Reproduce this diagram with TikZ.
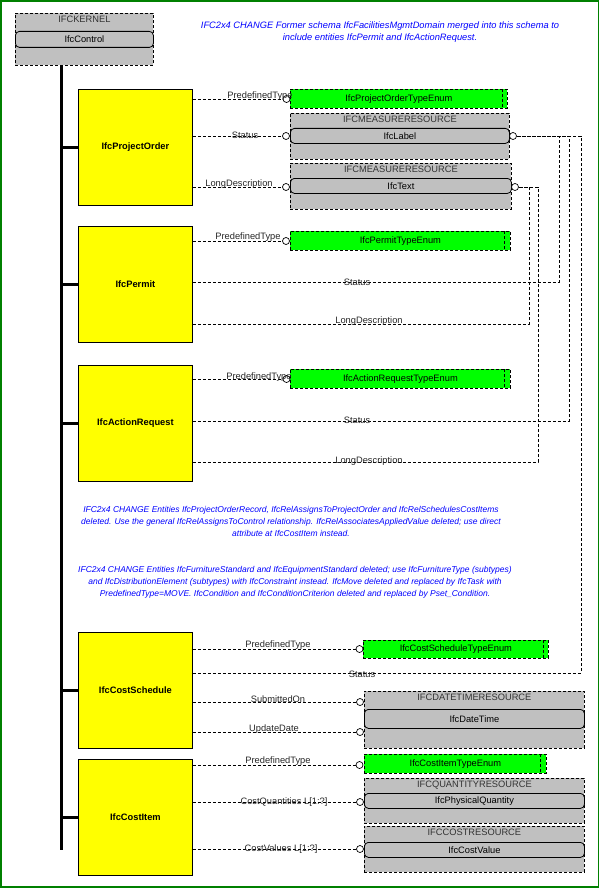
\documentclass[tikz,border=0pt]{standalone}
\usepackage{fontspec}
\setmainfont{Liberation Sans}
\usepackage{xcolor}
\usepackage{tikz}
\usetikzlibrary{positioning,calc}
\definecolor{ifcyellow}{RGB}{255,255,0}
\definecolor{ifcgreen}{RGB}{0,255,0}
\definecolor{ifcgray}{RGB}{192,192,192}
\definecolor{framegreen}{RGB}{0,128,0}
\definecolor{noteblue}{RGB}{0,0,255}
\newcommand{\attrfont}{\fontsize{9.3}{12}\selectfont}
\newcommand{\notefont}{\fontsize{8.5}{12}\selectfont}
\tikzset{
  entity/.style    = {draw, fill=ifcyellow, line width=0.8pt, minimum width=114pt,
                      minimum height=116pt, font=\attrfont\bfseries},
  enumbox/.style   = {draw, dash pattern=on 3pt off 2pt, line width=0.8pt, fill=ifcgreen,
                      anchor=north west, inner sep=0pt, font=\attrfont},
  schema/.style    = {draw, dash pattern=on 3pt off 2pt, line width=0.8pt, fill=ifcgray,
                      anchor=north west, inner sep=0pt},
  schemahead/.style= {font=\attrfont, text=black!80, inner sep=0pt},
  typedef/.style   = {draw, rounded corners=4pt, line width=0.8pt, fill=ifcgray,
                      minimum height=15pt, anchor=north west, inner sep=0pt, font=\attrfont},
  port/.style      = {circle, draw, fill=white, line width=0.7pt, inner sep=0pt, minimum size=7pt},
  link/.style      = {line width=0.8pt, dash pattern=on 3pt off 2pt},
  trunk/.style     = {line width=3pt},
  attr/.style      = {font=\attrfont, text=black!85, inner sep=0pt},
  note/.style      = {align=center, font=\attrfont\itshape, text=noteblue, inner sep=0pt},
}

\begin{document}
\begin{tikzpicture}[x=1pt, y=-1pt]
  \useasboundingbox (0,0) rectangle (600,888);
  \draw[framegreen, line width=1.5pt] (1,1) rectangle (598.5,887);

  % kernel
  \node[schema, minimum width=138pt, minimum height=52pt] (kern) at (15,13) {};
  \node[schemahead, below=3pt of kern.north] (kernHead) {IFCKERNEL};
  \node[typedef, minimum width=138pt, minimum height=16pt] (ctrl) at (15,31) {IfcControl};

  % entities
  \node[entity, anchor=north west] (po) at (78,89) {IfcProjectOrder};
  \node[entity, below=20pt of po] (pm) {IfcPermit};
  \node[entity, below=22pt of pm] (ar) {IfcActionRequest};
  \node[entity, anchor=north west] (cs) at (78,632) {IfcCostSchedule};
  \node[entity, below=10pt of cs] (ci) {IfcCostItem};

  \coordinate (trunkTop) at (61,65);
  \coordinate (trunkEnd) at (61,850);
  \draw[trunk] (trunkTop) -- (trunkEnd);
  \foreach \e in {po,pm,ar,cs,ci}
    \draw[trunk] (\e.west) -- (\e.west -| trunkTop);

  % enumerations
  \node[enumbox, minimum width=217pt, minimum height=19pt] (poE) at (290,89) {IfcProjectOrderTypeEnum};
  \node[enumbox, minimum width=220pt, minimum height=19pt] (pmE) at (290,231) {IfcPermitTypeEnum};
  \node[enumbox, minimum width=220pt, minimum height=19pt] (arE) at (290,369) {IfcActionRequestTypeEnum};
  \node[enumbox, minimum width=185pt, minimum height=18pt] (csE) at (363,640) {IfcCostScheduleTypeEnum};
  \node[enumbox, minimum width=182pt, minimum height=19pt] (ciE) at (364,754) {IfcCostItemTypeEnum};
  \foreach \e/\d in {poE/5,pmE/6,arE/6,csE/5,ciE/6}
    \draw[link] ([xshift=-\d pt]\e.north east) -- ([xshift=-\d pt]\e.south east);

  % resource schemas
  \node[schema, minimum width=219pt, minimum height=46pt] (mrA) at (290,113) {};
  \node[schemahead, below=3pt of mrA.north] (mrAHead) {IFCMEASURERESOURCE};
  \node[typedef, minimum width=219pt] (lbl) at (290,128) {IfcLabel};

  \node[schema, minimum width=221pt, minimum height=46pt] (mrB) at (290,163) {};
  \node[schemahead, below=3pt of mrB.north] (mrBHead) {IFCMEASURERESOURCE};
  \node[typedef, minimum width=221pt] (txt) at (290,178) {IfcText};

  \node[schema, minimum width=220pt, minimum height=57pt] (dt) at (364,691) {};
  \node[schemahead, below=3pt of dt.north] (dtHead) {IFCDATETIMERESOURCE};
  \node[typedef, minimum width=220pt, minimum height=19pt] (dtm) at (364,709) {IfcDateTime};

  \node[schema, minimum width=220pt, minimum height=45pt] (qt) at (364,778) {};
  \node[schemahead, below=3pt of qt.north] (qtHead) {IFCQUANTITYRESOURCE};
  \node[typedef, minimum width=220pt] (pq) at (364,793) {IfcPhysicalQuantity};

  \node[schema, minimum width=220pt, minimum height=46pt] (cr) at (364,826) {};
  \node[schemahead, below=3pt of cr.north] (crHead) {IFCCOSTRESOURCE};
  \node[typedef, minimum width=220pt] (cv) at (364,842) {IfcCostValue};

  % ports
  \node[port] (poTypeP) at (286.5,99) {};
  \node[port] (poStatP) at (286,136) {};
  \node[port] (poDescP) at (286,187) {};
  \node[port] (lblR) at (513,136) {};
  \node[port] (txtR) at (515,187) {};
  \node[port] (pmTypeP) at (286,241) {};
  \node[port] (arTypeP) at (286.5,379) {};
  \node[port] (csTypeP) at (359.5,649) {};
  \node[port] (csSubP) at (360,702) {};
  \node[port] (csUpdP) at (360,732) {};
  \node[port] (ciTypeP) at (359.5,765) {};
  \node[port] (ciQtyP) at (360,802) {};
  \node[port] (ciValP) at (360,849) {};

  \coordinate (pmStatB) at (559,282);
  \coordinate (pmDescB) at (529,324);
  \coordinate (arStatB) at (569,421);
  \coordinate (arDescB) at (538,462);
  \coordinate (csStatB) at (581,673);

  % attribute links
  \draw[link] (po.east |- poTypeP) -- (poTypeP);
  \draw[link] (po.east |- poStatP) -- (poStatP);
  \draw[link] (po.east |- poDescP) -- (poDescP);
  \draw[link] (pm.east |- pmTypeP) -- (pmTypeP);
  \draw[link] (pm.east |- pmStatB) -- (pmStatB) |- (lblR);
  \draw[link] (pm.east |- pmDescB) -- (pmDescB) |- (txtR);
  \draw[link] (ar.east |- arTypeP) -- (arTypeP);
  \draw[link] (ar.east |- arStatB) -- (arStatB) |- (lblR);
  \draw[link] (ar.east |- arDescB) -- (arDescB) |- (txtR);
  \draw[link] (cs.east |- csTypeP) -- (csTypeP);
  \draw[link] (cs.east |- csStatB) -- (csStatB) |- (lblR);
  \draw[link] (cs.east |- csSubP) -- (csSubP);
  \draw[link] (cs.east |- csUpdP) -- (csUpdP);
  \draw[link] (ci.east |- ciTypeP) -- (ciTypeP);
  \draw[link] (ci.east |- ciQtyP) -- (ciQtyP);
  \draw[link] (ci.east |- ciValP) -- (ciValP);

  % attribute names
  \node[attr] (poTypeL) at (260,96) {PredefinedType};
  \node[attr] (poStatL) at (245,135) {Status};
  \node[attr] (poDescL) at (239,184) {LongDescription};
  \node[attr] (pmTypeL) at (248,237) {PredefinedType};
  \node[attr] (pmStatL) at (357,282) {Status};
  \node[attr] (pmDescL) at (369,321) {LongDescription};
  \node[attr] (arTypeL) at (259,377) {PredefinedType};
  \node[attr] (arStatL) at (357,420) {Status};
  \node[attr] (arDescL) at (369,461) {LongDescription};
  \node[attr] (csTypeL) at (278,645) {PredefinedType};
  \node[attr] (csStatL) at (362,674) {Status};
  \node[attr] (csSubL) at (278,699) {SubmittedOn};
  \node[attr] (csUpdL) at (274,729) {UpdateDate};
  \node[attr] (ciTypeL) at (278,761) {PredefinedType};
  \node[attr] (ciQtyL) at (284,802) {CostQuantities L[1:?]};
  \node[attr] (ciValL) at (281,849) {CostValues L[1:?]};

  % change notes
  \node[note] (noteA) at (380,32) {IFC2x4 CHANGE Former schema IfcFacilitiesMgmtDomain merged into this schema to\\
    include entities IfcPermit and IfcActionRequest.};
  \node[note, font=\notefont\itshape] (noteB) at (291,521) {IFC2x4 CHANGE  Entities IfcProjectOrderRecord, IfcRelAssignsToProjectOrder and IfcRelSchedulesCostItems\\
    deleted. Use the general IfcRelAssignsToControl relationship.  IfcRelAssociatesAppliedValue deleted; use direct\\
    attribute at IfcCostItem instead.};
  \node[note, font=\notefont\itshape] (noteC) at (295,582) {IFC2x4 CHANGE Entities IfcFurnitureStandard and IfcEquipmentStandard deleted; use IfcFurnitureType (subtypes)\\
    and IfcDistributionElement (subtypes) with IfcConstraint instead.  IfcMove deleted and replaced by IfcTask with\\
    PredefinedType=MOVE.  IfcCondition and IfcConditionCriterion deleted and replaced by Pset\_Condition.};
\end{tikzpicture}
\end{document}
